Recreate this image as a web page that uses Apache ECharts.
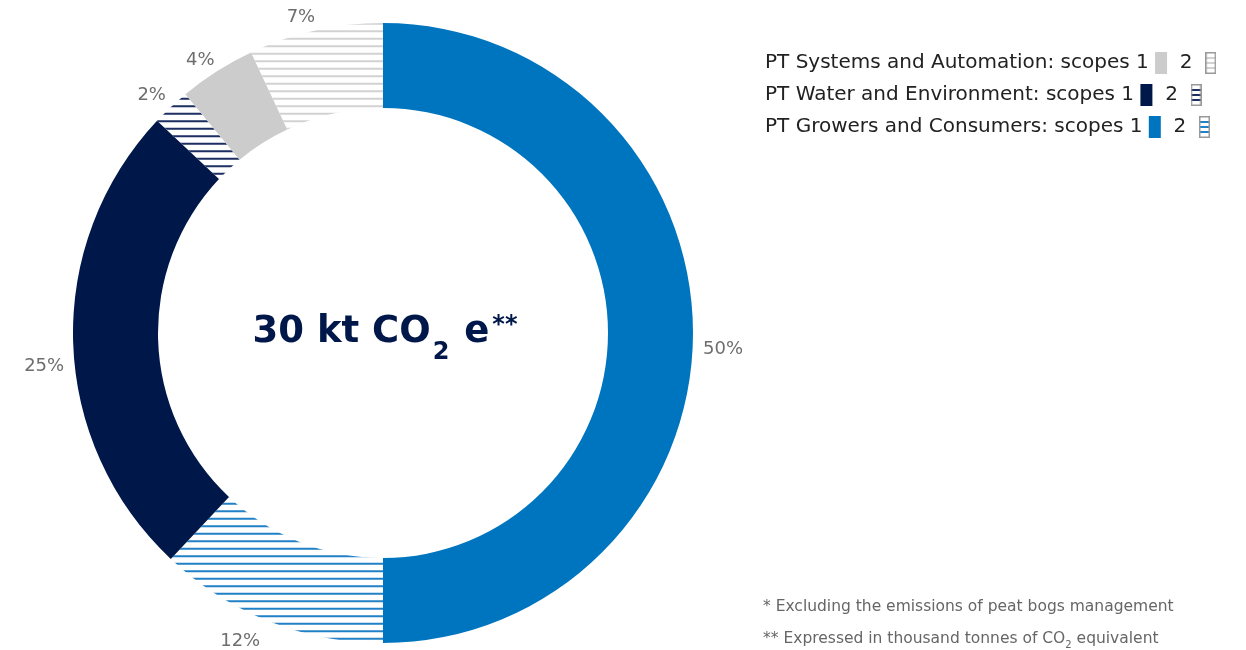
<!DOCTYPE html>
<html>
<head>
<meta charset="utf-8">
<style>html,body{margin:0;padding:0;background:#fff}#chart{width:1246px;height:650px}</style>
<script src="https://cdn.jsdelivr.net/npm/echarts@6/dist/echarts.min.js"></script>
</head>
<body>
<div id="chart"></div>
<script>
// values, in % of total emissions
var groups = ['PT Systems and Automation', 'PT Water and Environment', 'PT Growers and Consumers'];
var scope1 = [4, 25, 50];
var scope2 = [7, 2, 12];
var centerText = ['30 kt CO', '2', ' e', '**'];
var notes = [
  '* Excluding the emissions of peat bogs management',
  '** Expressed in thousand tonnes of CO{s|2} equivalent'
];

var solid = ['#cccccc', '#00174a', '#0075bf'];
var hatch = ['#d2d2d2', '#1d2f62', '#2280c6'];
var font = 'DejaVu Sans';
// label nudges, in pie data order (50, 12, 25, 2, 4, 7)
var nudge = [[-5, 16], [0, 11], [6, 23], [7, -4], [8, -2], [7, -3]];

// horizontal stripes, ~7.5px apart
function stripes(color){
  var c = document.createElement('canvas');
  c.width = 4; c.height = 15;
  var ctx = c.getContext('2d');
  ctx.fillStyle = color;
  ctx.fillRect(0, 0.25, 4, 2);
  ctx.fillRect(0, 7.75, 4, 2);
  return c;
}
function swatch(color){
  var c = document.createElement('canvas');
  c.width = 11; c.height = 22;
  var ctx = c.getContext('2d');
  ctx.fillStyle = '#fff';
  ctx.fillRect(0, 0, 11, 22);
  ctx.fillStyle = color;
  [5, 10, 15].forEach(function(y){ ctx.fillRect(1, y, 9, 2); });
  ctx.strokeStyle = '#999';
  ctx.lineWidth = 1.5;
  ctx.strokeRect(0.75, 0.75, 9.5, 20.5);
  return c;
}

var pieData = [];
for (var i = groups.length - 1; i >= 0; i--) {
  pieData.push({name: groups[i] + ': scope 1', value: scope1[i], itemStyle: {color: solid[i]}});
  pieData.push({name: groups[i] + ': scope 2', value: scope2[i],
    itemStyle: {color: {image: stripes(hatch[i]), repeat: 'repeat'}}});
}

// legend lines as rich text
var legendRich = {
  t: {fontSize: 20, fontFamily: font, fill: '#222', lineHeight: 32}
};
var legendLines = groups.map(function(g, i){
  legendRich['a' + i] = {width: 12, height: 22, backgroundColor: solid[i]};
  legendRich['b' + i] = {width: 11, height: 22, backgroundColor: {image: swatch(hatch[i])}, padding: [0, 0, 0, 0]};
  return '{t|' + g + ': scopes 1 }{a' + i + '|}{t|  2  }{b' + i + '|}';
});

var myChart = echarts.init(document.getElementById('chart'));
myChart.setOption({
  animation: false,
  series: [{
    type: 'pie',
    center: [383, 333],
    radius: [225, 310],
    startAngle: 90,
    silent: true,
    avoidLabelOverlap: false,
    label: {
      position: 'outside',
      formatter: '{c}%',
      color: '#6e6e6e',
      fontSize: 18,
      fontFamily: font
    },
    labelLine: {show: false, length: 10, length2: 0},
    labelLayout: function(p){
      var d = nudge[p.dataIndex];
      return {dx: d[0], dy: d[1]};
    },
    data: pieData
  }],
  graphic: [
    {
      type: 'text',
      x: 385, y: 332,
      style: {
        text: '{b|' + centerText[0] + '}{s|' + centerText[1] + '}{b|' + centerText[2] + '}{p|' + centerText[3] + '}',
        align: 'center',
        verticalAlign: 'middle',
        rich: {
          b: {fontSize: 37, fontWeight: 'bold', fontFamily: font, fill: '#00174a', lineHeight: 66, verticalAlign: 'middle'},
          s: {fontSize: 24, fontWeight: 'bold', fontFamily: font, fill: '#00174a', lineHeight: 26, verticalAlign: 'bottom', padding: [0, 2, 0, 2]},
          p: {fontSize: 24, fontWeight: 'bold', fontFamily: font, fill: '#00174a', lineHeight: 26, verticalAlign: 'top', padding: [15, 0, 0, 3]}
        }
      }
    },
    {
      type: 'text',
      x: 765, y: 47,
      style: {text: legendLines.join('\n'), rich: legendRich}
    },
    {
      type: 'text',
      x: 763, y: 591,
      style: {
        text: notes.map(function(n){ return '{n|' + n.replace('{s|2}', '}{s|2}{n|') + '}'; }).join('\n'),
        rich: {
          n: {fontSize: 15.5, fontFamily: font, fill: '#666', lineHeight: 32, verticalAlign: 'middle'},
          s: {fontSize: 10, fontFamily: font, fill: '#666', lineHeight: 32, verticalAlign: 'middle', padding: [12, 0, 0, 0]}
        }
      }
    }
  ]
});
</script>
</body>
</html>
